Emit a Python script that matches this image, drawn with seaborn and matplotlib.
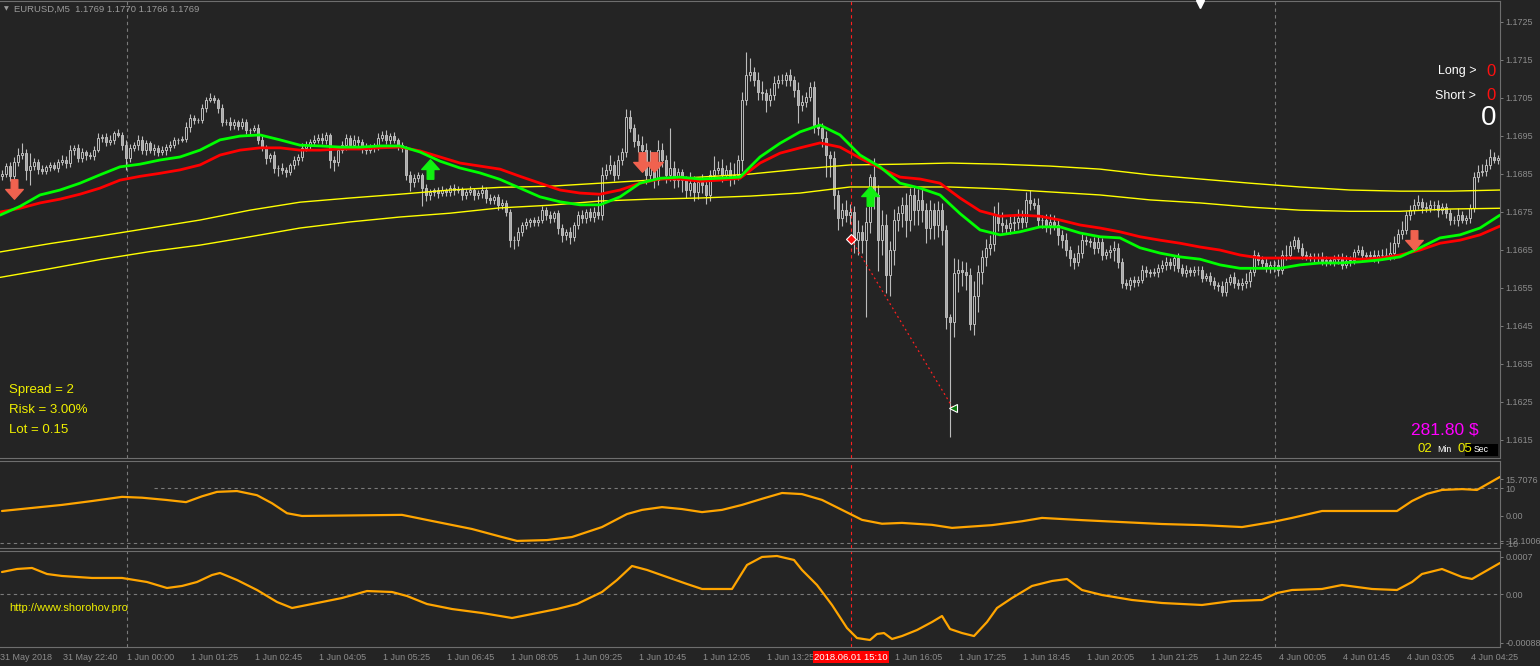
#!/usr/bin/env python3
"""
EURUSD M5 chart (MetaTrader look) rebuilt with seaborn / matplotlib
"""

import numpy as np
import pandas as pd
import matplotlib
matplotlib.use("Agg")
import matplotlib.pyplot as plt
from matplotlib.path import Path
import seaborn as sns

# ---- candle data: prices in points above 1.16000 (1 point = 0.00001) ----
first_open = 845
closes = [
    850, 870, 845, 880, 900, 905, 860, 870, 880, 862, 858, 868, 872, 865, 880, 886, 877, 912, 918, 890, 906, 899, 897, 912, 944,
    947, 934, 939, 957, 952, 925, 890, 918, 925, 939, 912, 931, 912, 918, 906, 912, 920, 925, 939, 939, 941, 973, 997, 991, 991,
    1023, 1044, 1049, 1044, 1023, 986, 986, 978, 986, 976, 986, 965, 965, 970, 939, 918, 890, 899, 865, 865, 860, 854, 873, 886, 894,
    918, 925, 934, 939, 944, 939, 952, 886, 881, 912, 925, 944, 925, 939, 934, 918, 912, 918, 923, 944, 952, 939, 949, 939, 925,
    918, 847, 828, 838, 847, 812, 794, 802, 807, 799, 807, 802, 812, 807, 810, 794, 802, 807, 794, 799, 807, 786, 781, 789, 768,
    773, 750, 675, 675, 697, 715, 723, 728, 723, 728, 754, 741, 733, 746, 707, 689, 697, 684, 715, 741, 733, 750, 736, 750, 741,
    847, 860, 873, 847, 886, 906, 999, 970, 935, 925, 912, 847, 873, 833, 912, 886, 847, 865, 833, 854, 833, 807, 825, 802, 828,
    820, 794, 847, 860, 865, 847, 860, 838, 847, 886, 1044, 1110, 1118, 1096, 1065, 1062, 1044, 1057, 1088, 1096, 1096, 1110, 1096, 1070, 1031,
    1039, 1052, 1078, 978, 970, 944, 899, 890, 794, 733, 754, 741, 750, 675, 697, 675, 723, 840, 794, 675, 715, 583, 649, 728, 746,
    768, 728, 794, 754, 781, 754, 707, 754, 715, 754, 702, 472, 459, 589, 596,
    590, 583, 455, 527, 590, 630, 655, 665, 740, 720,
    715, 707, 720, 723, 733, 723, 781, 773, 768, 728,
    728, 715, 723, 715, 689, 675, 649, 628, 618, 641,
    675, 672, 670, 655, 670, 636, 643, 649, 655, 618,
    562, 557, 570, 565, 570, 596, 590, 589, 590, 601,
    610, 618, 610, 628, 601, 589, 596, 590, 596, 596,
    575, 580, 568, 557, 554, 539, 565, 578, 562, 557,
    562, 568, 590, 636, 623, 615, 601, 610, 610, 596,
    636, 636, 660, 675, 655, 636, 634, 628, 628, 630,
    620, 623, 618, 625, 628, 610, 620, 623, 643, 649,
    636, 634, 636, 628, 636, 636, 636, 641, 667, 690,
    702, 741, 754, 768, 776, 762, 760, 768, 768, 754,
    762, 746, 728, 728, 741, 728, 733, 760, 841, 854,
    857, 873, 894, 886, 890,
]
wick_hi = [
    10, 8, 12, 15, 18, 26, 10, 34, 12, 8, 10, 6, 8, 10, 8, 12, 10, 14, 8, 10, 12, 6, 8, 10, 12,
    8, 10, 12, 6, 10, 8, 14, 10, 8, 12, 10, 8, 6, 10, 8, 12, 8, 10, 8, 6, 8, 12, 10, 8, 6,
    10, 8, 13, 8, 6, 10, 8, 12, 8, 6, 10, 8, 6, 8, 12, 10, 8, 6, 10, 8, 12, 8, 6, 10, 8,
    12, 10, 8, 14, 10, 12, 8, 6, 10, 8, 12, 10, 8, 14, 10, 8, 12, 10, 8, 14, 10, 12, 8, 10, 6,
    8, 6, 10, 12, 8, 6, 10, 8, 6, 8, 10, 6, 8, 10, 8, 6, 8, 10, 6, 8, 12, 8, 10, 6, 8,
    10, 8, 6, 10, 12, 8, 10, 6, 8, 10, 12, 8, 10, 6, 8, 10, 8, 12, 8, 10, 14, 8, 10, 12, 40,
    20, 16, 25, 10, 14, 12, 21, 18, 10, 20, 24, 18, 40, 12, 26, 20, 14, 105, 18, 10, 8, 12, 30, 18, 14,
    22, 16, 12, 36, 18, 24, 12, 20, 30, 12, 20, 60, 36, 14, 22, 30, 12, 18, 20, 14, 16, 8, 16, 12, 20,
    18, 14, 13, 16, 22, 14, 18, 12, 20, 14, 20, 26, 20, 16, 30, 18, 40, 10, 50, 26, 40, 30, 24, 30, 20,
    20, 30, 18, 24, 30, 28, 20, 26, 18, 24, 20, 14, 10, 40, 30, 24, 28, 18, 40, 20, 18, 22, 24, 24, 36,
    30, 16, 20, 18, 24, 22, 20, 26, 14, 18, 12, 16, 22, 18, 14, 12, 18, 10, 14, 20, 16, 12, 10, 14, 16,
    12, 10, 14, 18, 12, 10, 12, 8, 10, 12, 14, 10, 8, 12, 10, 14, 12, 10, 8, 12, 10, 14, 8, 10, 12,
    10, 8, 12, 10, 8, 14, 10, 8, 12, 10, 14, 20, 10, 12, 8, 10, 12, 10, 14, 16, 12, 26, 14, 10, 8,
    12, 10, 8, 12, 10, 14, 10, 8, 12, 10, 14, 16, 10, 8, 12, 10, 8, 10, 12, 14, 16, 18, 30, 20, 14,
    24, 12, 14, 16, 18, 10, 14, 12, 10, 14, 12, 10, 12, 10, 18, 10, 8, 10, 14, 20, 18, 16, 20, 14, 10,
]
wick_lo = [
    12, 10, 14, 8, 10, 12, 26, 40, 10, 12, 8, 10, 12, 6, 10, 8, 12, 10, 14, 8, 10, 12, 8, 10, 6,
    10, 12, 8, 10, 6, 12, 30, 10, 8, 12, 10, 14, 8, 12, 10, 8, 12, 10, 8, 10, 6, 8, 12, 10, 8,
    8, 10, 6, 8, 12, 10, 8, 14, 10, 12, 8, 10, 12, 6, 10, 8, 14, 10, 12, 20, 10, 14, 8, 10, 12,
    10, 8, 12, 10, 8, 10, 12, 20, 24, 10, 8, 12, 10, 8, 12, 14, 10, 8, 12, 10, 8, 12, 10, 8, 12,
    10, 14, 24, 12, 10, 48, 16, 12, 10, 14, 8, 12, 10, 14, 8, 12, 10, 8, 14, 10, 12, 14, 10, 12, 14,
    10, 12, 18, 24, 16, 12, 10, 14, 12, 10, 8, 14, 12, 10, 16, 20, 14, 18, 12, 10, 14, 12, 10, 12, 10,
    14, 10, 12, 16, 10, 14, 12, 10, 16, 18, 14, 24, 12, 20, 14, 18, 22, 16, 20, 18, 30, 20, 16, 24, 18,
    20, 24, 16, 14, 12, 18, 14, 20, 16, 14, 30, 12, 16, 14, 20, 18, 32, 16, 14, 12, 10, 14, 16, 18, 48,
    16, 14, 12, 20, 18, 24, 58, 49, 36, 31, 22, 18, 24, 34, 40, 34, 203, 30, 36, 80, 40, 47, 56, 40, 30,
    36, 44, 30, 38, 40, 32, 40, 30, 36, 32, 40, 30, 302, 40, 50, 36, 40, 17, 30, 42, 30, 24, 20, 18, 22,
    18, 14, 16, 20, 18, 16, 14, 18, 12, 16, 20, 18, 24, 14, 26, 20, 16, 22, 18, 12, 14, 10, 12, 16, 14,
    12, 10, 14, 30, 16, 12, 10, 14, 12, 10, 8, 12, 10, 8, 12, 10, 14, 12, 16, 10, 8, 12, 10, 8, 12,
    10, 8, 12, 10, 14, 12, 10, 8, 12, 10, 14, 12, 16, 10, 14, 12, 10, 12, 20, 14, 10, 12, 10, 8, 12,
    10, 12, 8, 10, 12, 10, 14, 8, 10, 12, 10, 8, 12, 10, 8, 12, 10, 8, 10, 12, 14, 10, 12, 16, 10,
    12, 10, 14, 10, 12, 16, 10, 12, 14, 18, 10, 12, 14, 10, 16, 8, 10, 12, 10, 14, 10, 12, 10, 8, 10,
]

# ---- moving averages, one reading every 5 bars (points above 1.16000) ----
ma_fast = [
    741, 764, 794, 807, 825, 847, 868, 875, 886, 894, 912, 939, 949, 952, 939, 925, 923, 920, 920, 923,
    923, 907, 883, 865, 852, 835, 812, 789, 776, 768, 768, 789, 825, 838, 841, 836, 838, 841, 894, 930,
    960, 978, 952, 899, 868, 825, 812, 794, 745, 702, 689, 697, 710, 710, 694, 684, 681, 655, 641, 631,
    625, 610, 601, 601, 601, 610, 615, 615, 618, 623, 631, 655, 681, 689, 707, 741,
]
ma_slow = [
    749, 759, 773, 783, 796, 812, 833, 843, 851, 860, 873, 899, 912, 918, 918, 912, 912, 915, 915, 918,
    920, 910, 894, 878, 870, 862, 843, 825, 807, 799, 796, 807, 825, 836, 836, 830, 833, 838, 878, 904,
    918, 931, 920, 891, 865, 841, 836, 825, 786, 752, 738, 741, 738, 728, 715, 707, 697, 684, 675, 667,
    657, 649, 636, 628, 628, 628, 628, 628, 625, 628, 636, 649, 667, 675, 689, 712,
]
# ---- long averages (yellow), one reading every 12.5 bars ----
ma_long_a = [
    644, 666, 686, 707, 728, 754, 775, 786, 796, 807, 814, 817, 825, 833, 841, 849, 862, 873, 875, 878,
    875, 870, 862, 847, 836, 825, 815, 807, 804, 804, 807,
]
ma_long_b = [
    577, 600, 624, 645, 662, 684, 707, 723, 736, 746, 760, 767, 778, 783, 786, 791, 799, 815, 815, 815,
    810, 802, 794, 781, 773, 762, 754, 751, 751, 757, 759,
]

# ---- signal arrows (bar, price points) ----
sell_bars = [3, 160, 163, 353]
sell_prices = [809, 880, 880, 675]
buy_bars = [107, 217]
buy_prices = [862, 791]
trade_bars = [212.25, 237.75]
trade_prices = [678, 233]

# ---- oscillator panels (bar, value) ----
osc1_bars = [0, 7.5, 15, 22.5, 30, 35, 41, 46, 50, 53.75, 58.75, 63.75, 67.5, 71.25, 75, 100, 107.5, 117.5,
             125, 128.75, 136.25, 142.5, 150, 156.25, 160, 165, 170, 175, 180, 185, 190, 195, 200, 205,
             210, 215, 220, 225, 232.5, 237.5, 247.5, 255, 260, 270, 280, 290, 300, 310, 317.5, 322.5,
             330, 348.75, 352.5, 356.25, 360, 365, 368.75, 374.5]
osc1_vals = [1.7, 2.8, 3.9, 5.3, 6.8, 6.5, 5.7, 4.9, 7.0, 8.6, 8.9, 7.4, 4.5, 0.9, -0.1, 0.3, -1.9, -4.8,
             -7.7, -9.1, -8.8, -7.7, -4.1, 0.6, 2.1, 3.1, 2.4, 1.3, 2.1, 3.9, 6.1, 8.2, 7.8, 5.7,
             2.1, -1.5, -2.9, -2.6, -3.3, -4.4, -3.4, -2.0, -0.8, -1.6, -2.3, -3.0, -3.4, -4.1, -2.3, -0.8,
             1.7, 1.7, 5.3, 7.9, 9.3, 9.6, 9.3, 14.0]
osc2_bars = [0, 3.75, 7.5, 11.25, 15, 22.5, 30, 36.25, 41.25, 45,
             48.75, 52.5, 54.5, 58.75, 63.75, 68.75, 72.5, 77.5, 85, 91.25,
             97.5, 101.25, 106.25, 112.5, 120, 127.5, 132.5, 138.75, 143.75, 150,
             153.75, 157.5, 161.25, 166.25, 171.25, 175, 182.5, 186.25, 190, 193.75,
             198, 200, 203.75, 207.5, 211.25, 213.75, 217, 218.75, 220.5, 222.5,
             225, 228.75, 232.5, 235, 237, 240, 243, 246.25, 248.75, 252.5,
             257.5, 262.5, 266.25, 270, 275, 282.5, 290, 300, 307.5, 315,
             318.75, 322.5, 330, 335, 342.5, 348.75, 352.5, 355, 360, 365,
             367.5, 374.5]
osc2_vals = [4.15, 4.71, 4.90, 3.78, 3.41, 3.04, 3.04, 2.29, 1.17, 1.55,
             2.29, 3.59, 3.97, 2.66, 0.80, -1.43, -2.55, -1.81, -0.69, 0.61,
             0.43, -0.32, -1.81, -2.74, -3.48, -4.41, -3.67, -2.74, -1.81, 0.43,
             2.66, 5.27, 4.53, 3.22, 1.92, 0.99, 0.99, 5.46, 6.95, 7.13,
             6.39, 4.53, 1.73, -1.99, -6.28, -8.14, -8.51, -7.39, -7.21, -8.32,
             -7.77, -6.65, -5.16, -4.04, -6.46, -7.21, -7.77, -5.16, -2.55, -0.69,
             1.55, 2.48, 2.85, 0.80, -0.13, -1.06, -1.62, -1.99, -1.25, -1.06,
             0.24, 0.80, 0.99, 1.73, 0.99, 0.80, 2.29, 3.78, 4.71, 3.22,
             2.85, 5.83]  # units of 0.0001

# ---- axis texts ----
time_labels = ["31 May 2018", "31 May 22:40", "1 Jun 00:00", "1 Jun 01:25", "1 Jun 02:45", "1 Jun 04:05",
               "1 Jun 05:25", "1 Jun 06:45", "1 Jun 08:05", "1 Jun 09:25", "1 Jun 10:45", "1 Jun 12:05",
               "1 Jun 13:25", "", "1 Jun 16:05", "1 Jun 17:25", "1 Jun 18:45", "1 Jun 20:05",
               "1 Jun 21:25", "1 Jun 22:45", "4 Jun 00:05", "4 Jun 01:45", "4 Jun 03:05", "4 Jun 04:25"]
price_levels = [1.1725, 1.1715, 1.1705, 1.1695, 1.1685, 1.1675, 1.1665, 1.1655, 1.1645, 1.1635, 1.1625, 1.1615]
day_breaks = [31.25, 318.25]
cursor_bar = 212.25
header = "EURUSD,M5  1.1769 1.1770 1.1766 1.1769"

BG = "#242424"
GRID = "#7a7a7a"
AXTXT = "#8c8c8c"
CANDLE = "#bcbcbc"
W, H = 1540, 666

sns.set_theme(style="dark")
plt.rcParams['font.family'] = ['Liberation Sans', 'DejaVu Sans']


def to_price(points):
    return 1.16 + np.asarray(points, dtype=float) / 1e5


def px_axes(fig, x0, y0, x1, y1):
    ax = fig.add_axes([x0 / W, 1 - y1 / H, (x1 - x0) / W, (y1 - y0) / H])
    ax.set_facecolor(BG)
    ax.grid(False)
    for side in ["top", "bottom", "right"]:
        ax.spines[side].set_color("#6e6e6e")
        ax.spines[side].set_linewidth(0.8)
    ax.spines["left"].set_visible(False)
    ax.set_xlim(-0.5, 374.5)
    ax.yaxis.tick_right()
    ax.tick_params(axis="y", colors=AXTXT, labelsize=6.5, length=2.5, width=0.6, pad=1.5, labelcolor=AXTXT)
    ax.set_xticks([])
    return ax


def arrow_path(up=True):
    v = [(-0.17, -0.5), (0.17, -0.5), (0.17, 0.0), (0.45, 0.0), (0.0, 0.5), (-0.45, 0.0), (-0.17, 0.0), (-0.17, -0.5)]
    if not up:
        v = [(x, -y) for x, y in v]
    codes = [Path.MOVETO] + [Path.LINETO] * (len(v) - 2) + [Path.CLOSEPOLY]
    return Path(v, codes)


def draw_candles(ax):
    c = np.array(closes, dtype=float)
    o = np.array([first_open] + closes[:-1], dtype=float)
    top = np.maximum(o, c) + np.array(wick_hi)
    bot = np.minimum(o, c) - np.array(wick_lo)
    idx = np.arange(len(c))
    ax.vlines(idx, to_price(bot), to_price(top), color=CANDLE, lw=0.8, zorder=3)
    bull = c >= o
    lo_b = np.minimum(o, c)
    height = np.abs(c - o) / 1e5
    ax.bar(idx[bull], height[bull], bottom=to_price(lo_b[bull]), width=0.72,
           facecolor=BG, edgecolor=CANDLE, linewidth=0.7, zorder=4)
    ax.bar(idx[~bull], height[~bull], bottom=to_price(lo_b[~bull]), width=0.72,
           facecolor="#a9a9a9", edgecolor=CANDLE, linewidth=0.7, zorder=4)


def main():
    fig = plt.figure(figsize=(W / 100, H / 100), dpi=100, facecolor=BG)

    # ---------------- main price panel ----------------
    ax = px_axes(fig, 0, 1, 1500, 458)
    ax.set_ylim(to_price(101.7), to_price(1304.5))
    ax.set_yticks(price_levels)
    ax.set_yticklabels([f"{p:.4f}" for p in price_levels], ha="left")

    for b in day_breaks:
        ax.axvline(b, color=GRID, lw=0.8, ls=(0, (3, 3)), zorder=1)

    # long averages
    long_bars = np.arange(len(ma_long_a)) * 12.5 - 0.5
    sns.lineplot(x=long_bars, y=to_price(ma_long_a), ax=ax, color="#ffff00", lw=1.0, zorder=5)
    sns.lineplot(x=long_bars, y=to_price(ma_long_b), ax=ax, color="#ffff00", lw=1.0, zorder=5)

    draw_candles(ax)

    ma_bars = np.arange(len(ma_fast)) * 5 - 0.5
    sns.lineplot(x=ma_bars, y=to_price(ma_slow), ax=ax, color="#ff0000", lw=2.0, zorder=6)
    sns.lineplot(x=ma_bars, y=to_price(ma_fast), ax=ax, color="#00ff00", lw=2.0, zorder=7)

    ax.axvline(cursor_bar, color="#ff2020", lw=0.8, ls=(0, (3, 3)), zorder=2)

    # signal arrows
    ax.plot(sell_bars, to_price(sell_prices), ls="none", marker=arrow_path(up=False), ms=14,
            color="#f0624f", mec="#f0624f", zorder=8)
    ax.plot(buy_bars, to_price(buy_prices), ls="none", marker=arrow_path(up=True), ms=14,
            color="#10f010", mec="#10f010", zorder=8)

    # trade line with entry / exit marks
    ax.plot(trade_bars, to_price(trade_prices), color="#ff2020", lw=0.9, ls=(0, (1.5, 2.5)), zorder=8)
    ax.plot(trade_bars[0], to_price(trade_prices[0]), marker="D", ms=5, color="#ff1010", mec="white", mew=0.8, zorder=9)
    ax.plot(trade_bars[1], to_price(trade_prices[1]), marker="<", ms=6, color="#0a7a0a", mec="white", mew=0.8, zorder=9)

    # chart-shift marker at the top
    ax.plot([299.5], [0.993], marker="v", ms=6, color="white", transform=ax.get_xaxis_transform(), clip_on=False, zorder=10)

    # ---------------- oscillator panel 1 ----------------
    ax1 = px_axes(fig, 0, 461, 1500, 548)
    ax1.set_ylim(-11.66, 19.75)
    ax1.set_yticks([13.25, 10, 0, -9.9, -9.1])
    ax1.set_yticklabels(["15.7076", "10", "0.00", "-10", "-12.1006"], ha="left")
    for b in day_breaks:
        ax1.axvline(b, color=GRID, lw=0.8, ls=(0, (3, 3)))
    ax1.axvline(cursor_bar, color="#ff2020", lw=0.8, ls=(0, (3, 3)))
    ax1.hlines(10, 38, 374.5, color=GRID, lw=0.8, ls=(0, (3, 3)))
    ax1.axhline(-10, color=GRID, lw=0.8, ls=(0, (3, 3)))
    sns.lineplot(x=osc1_bars, y=osc1_vals, ax=ax1, color="#ffa500", lw=1.6, zorder=5)

    # ---------------- oscillator panel 2 ----------------
    ax2 = px_axes(fig, 0, 551, 1500, 647)
    ax2.set_ylim(-9.81, 8.06)
    ax2.set_yticks([7.0, 0.0, -9.0])
    ax2.set_yticklabels(["0.0007", "0.00", "-0.00088"], ha="left")
    for b in day_breaks:
        ax2.axvline(b, color=GRID, lw=0.8, ls=(0, (3, 3)))
    ax2.axvline(cursor_bar, color="#ff2020", lw=0.8, ls=(0, (3, 3)))
    ax2.axhline(0, color=GRID, lw=0.8, ls=(0, (3, 3)))
    sns.lineplot(x=osc2_bars, y=osc2_vals, ax=ax2, color="#ffa500", lw=1.6, zorder=5)

    tick_bars = [-0.5] + [15.33 + 16 * k for k in range(len(time_labels) - 1)]
    ax2.set_xticks(tick_bars)
    ax2.set_xticklabels(time_labels, ha="left")
    ax2.tick_params(axis="x", colors="#6e6e6e", labelcolor=AXTXT, labelsize=6.5, length=3, width=0.6, pad=1.5)
    ax2.set_xlim(-0.5, 374.5)

    for a in (ax, ax1, ax2):
        a.set_xlabel("")
        a.set_ylabel("")

    # ---------------- overlay texts ----------------
    def ft(x, y, s, **kw):
        fig.text(x / W, 1 - y / H, s, va="center", **kw)

    ft(4, 9, "\u25bc", fontsize=4.5, color="#9a9a9a", family="DejaVu Sans")
    ft(14, 9, header, fontsize=6.8, color="#9a9a9a")

    ft(1476, 71, "Long >", fontsize=9, color="white", ha="right")
    ft(1486, 71, "0", fontsize=12, color="#ff1010")
    ft(1476, 96, "Short >", fontsize=9, color="white", ha="right")
    ft(1486, 96, "0", fontsize=12, color="#ff1010")
    ft(1481, 118, "0", fontsize=20, color="white")

    ft(9, 390, "Spread = 2", fontsize=9.5, color="#f0f000")
    ft(9, 410, "Risk = 3.00%", fontsize=9.5, color="#f0f000")
    ft(9, 430, "Lot = 0.15", fontsize=9.5, color="#f0f000")

    ft(1411, 430, "281.80 $", fontsize=12.5, color="#ff00ff")
    ft(1417, 449, "02", fontsize=9.5, color="#f0f000")
    ft(1437, 450, "Min", fontsize=6.3, color="white")
    fig.patches.append(plt.Rectangle((1465 / W, 1 - 456 / H), 33 / W, 12 / H, transform=fig.transFigure,
                                     facecolor="black", edgecolor="none", zorder=2))
    ft(1458, 449, "05", fontsize=9.5, color="#f0f000", zorder=3)
    ft(1474, 450, "Sec", fontsize=6.3, color="white", zorder=3)

    ft(9, 608, "http://www.shorohov.pro", fontsize=8, color="#f0f000")

    ft(851, 657, "2018.06.01 15:10", fontsize=6.8, color="white", ha="center",
       bbox=dict(boxstyle="square,pad=0.15", facecolor="#ff0000", edgecolor="none"))

    fig.savefig("out.png", dpi=100, facecolor=BG)
    plt.close(fig)


if __name__ == "__main__":
    main()
